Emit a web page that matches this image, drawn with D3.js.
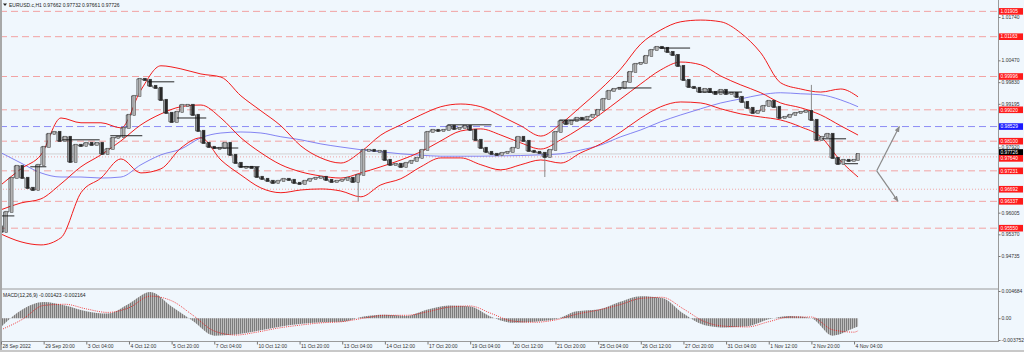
<!DOCTYPE html>
<html><head><meta charset="utf-8">
<script src="https://cdn.jsdelivr.net/npm/d3@7"></script>
<style>
html,body{margin:0;padding:0;background:#fff;}
svg{display:block;font-family:"Liberation Sans",Arial,sans-serif;}
</style></head><body>
<svg id="c" width="1024" height="352"></svg>
<script>
// ---------- DATA ----------
const symbolTitle = "EURUSD.c,H1  0.97662 0.97732 0.97661 0.97726";
const macdTitle = "MACD(12,26,9) -0.001423 -0.002164";
// time axis labels (every 32 H1 bars)
const timeLabels = ["28 Sep 2022","29 Sep 20:00","3 Oct 04:00","4 Oct 12:00","5 Oct 20:00","7 Oct 04:00","10 Oct 12:00","11 Oct 20:00","13 Oct 04:00","14 Oct 12:00","17 Oct 20:00","19 Oct 04:00","20 Oct 12:00","21 Oct 20:00","25 Oct 04:00","26 Oct 12:00","27 Oct 20:00","31 Oct 04:00","1 Nov 12:00","2 Nov 20:00","4 Nov 04:00"];
const timeLabelBars = [0,32,64,96,128,160,192,224,256,288,320,352,384,416,448,480,512,544,576,608,640];
// visible price-scale labels (the others sit under level boxes)
const priceTicks = [1.01740,1.00470,0.99830,0.99195,0.97920,0.96005,0.95370,0.94735];
const macdTicks = [0.004684,0,-0.003752];
const macdTickLabels = ["0.004684","0.00","-0.003752"];

// price closes sampled every 4 H1 bars (last = current bar 643)
const closeBars = d3.range(0,161).map(k=>k*4).concat([643]);
const firstOpen = 0.9560;
const closes = [0.95442,0.96028,0.97025,0.97376,0.97025,0.96732,0.96673,0.97406,0.97933,0.98314,
0.98372,0.98109,0.98226,0.97493,0.97992,0.97962,0.98050,0.97992,0.98050,0.97728,
0.97874,0.98197,0.98226,0.98490,0.98871,0.99427,0.99925,0.99896,0.99720,0.99662,
0.99310,0.98929,0.98665,0.98958,0.99164,0.99164,0.98871,0.98402,0.98050,0.97933,
0.97904,0.97904,0.98050,0.97699,0.97464,0.97347,0.97347,0.97318,0.97054,0.96995,
0.96937,0.96878,0.96937,0.96995,0.96966,0.96878,0.96849,0.96937,0.96995,0.97025,
0.97054,0.96966,0.96907,0.96937,0.96966,0.97025,0.96907,0.97113,0.97845,0.97845,
0.97816,0.97816,0.97552,0.97406,0.97435,0.97347,0.97464,0.97523,0.97611,0.97845,
0.98372,0.98431,0.98402,0.98431,0.98548,0.98460,0.98490,0.98548,0.98431,0.98138,
0.97904,0.97786,0.97728,0.97699,0.97757,0.97786,0.97904,0.98226,0.98109,0.97816,
0.97786,0.97757,0.97640,0.97845,0.98372,0.98695,0.98607,0.98695,0.98783,0.98753,
0.98812,0.98871,0.99017,0.99339,0.99574,0.99632,0.99662,0.99837,1.00130,1.00365,
1.00394,1.00599,1.00775,1.00863,1.00834,1.00716,1.00628,1.00306,0.99896,0.99691,
0.99662,0.99544,0.99632,0.99544,0.99486,0.99603,0.99486,0.99515,0.99398,0.99251,
0.99076,0.98929,0.98987,0.99134,0.99281,0.99105,0.98783,0.98812,0.98871,0.98929,
0.98958,0.98987,0.98724,0.98138,0.98226,0.98314,0.97611,0.97435,0.97552,0.97523,
0.97552,0.97726];
// notable wicks [candle number, high, low]
const wicks = [[0,null,0.9536],[67,null,0.96337],[102,null,0.9705],[152,0.9975,null]];

// indicator samples every 15 bars (last = bar 643)
const bandBars = d3.range(0,631,15).concat([643]);
const bbUpper = [0.9682,0.9729,0.9770,0.9878,0.9864,0.9864,0.9849,0.9960,1.0031,1.0022,
1.0007,0.9998,0.9943,0.9899,0.9855,0.9796,0.9761,0.9746,0.9779,0.9828,
0.9858,0.9887,0.9911,0.9919,0.9911,0.9884,0.9855,0.9825,0.9861,0.9911,
0.9963,1.0022,1.0095,1.0136,1.0160,1.0165,1.0160,1.0127,1.0069,0.9981,
0.9963,0.9954,0.9963,0.9940];
const bbMiddle = [0.9609,0.9629,0.9641,0.9685,0.9735,0.9770,0.9811,0.9858,0.9890,0.9911,
0.9916,0.9878,0.9820,0.9776,0.9741,0.9720,0.9708,0.9702,0.9717,0.9735,
0.9755,0.9779,0.9811,0.9840,0.9846,0.9828,0.9805,0.9787,0.9814,0.9849,
0.9890,0.9934,0.9978,1.0019,1.0042,1.0034,1.0001,0.9975,0.9952,0.9922,
0.9908,0.9887,0.9855,0.9828];
const bbLower = [0.9538,0.9515,0.9506,0.9527,0.9659,0.9702,0.9758,0.9717,0.9729,0.9790,
0.9820,0.9755,0.9711,0.9673,0.9659,0.9667,0.9670,0.9664,0.9647,0.9682,
0.9700,0.9735,0.9761,0.9761,0.9741,0.9726,0.9741,0.9755,0.9746,0.9776,
0.9802,0.9837,0.9878,0.9911,0.9925,0.9922,0.9905,0.9890,0.9881,0.9872,
0.9852,0.9823,0.9752,0.9705];
const maSlow = [0.9776,0.9746,0.9717,0.9705,0.9705,0.9702,0.9705,0.9741,0.9770,0.9787,
0.9820,0.9834,0.9837,0.9834,0.9823,0.9814,0.9802,0.9793,0.9785,0.9779,
0.9773,0.9769,0.9766,0.9766,0.9766,0.9767,0.9768,0.9770,0.9773,0.9784,
0.9799,0.9823,0.9843,0.9867,0.9887,0.9905,0.9922,0.9934,0.9946,0.9952,
0.9949,0.9946,0.9931,0.9911];

// MACD samples every 16 bars (last = bar 643)
const macdBars = d3.range(0,641,16).concat([643]);
const macdMain = [-0.0015,0.0015,0.0028,0.0022,0.0012,0.0008,0.0025,0.0045,0.0020,-0.0005,
-0.0030,-0.0028,-0.0022,-0.0015,-0.0010,-0.0007,-0.0006,0.0003,0.0006,0.0004,
0.0015,0.0022,0.0020,0.0002,-0.0008,-0.0006,-0.0002,0.0012,0.0015,0.0028,
0.0038,0.0035,0.0008,-0.0012,-0.0016,-0.0014,-0.0002,0.0004,0.0000,-0.0030,
-0.0017,-0.001423];
const macdSignal = [-0.0020,-0.0002,0.0022,0.0024,0.0016,0.0010,0.0018,0.0038,0.0030,0.0005,
-0.0022,-0.0029,-0.0024,-0.0017,-0.0012,-0.0008,-0.0006,0.0000,0.0005,0.0005,
0.0011,0.0019,0.0021,0.0008,-0.0005,-0.0007,-0.0003,0.0007,0.0014,0.0023,
0.0034,0.0036,0.0016,-0.0006,-0.0014,-0.0015,-0.0006,0.0002,0.0002,-0.0020,
-0.0024,-0.002164];

// horizontal levels
const levelsDashedRed = [1.01905,1.01163,0.99996,0.99020,0.98100,0.97231,0.96337,0.95550];
const levelsDashedBlue = [0.98529];
const levelsDottedRed = [0.97640,0.96692];
const bidPrice = 0.97726;
const labelsRed = [1.01905,1.01163,0.99996,0.99020,0.98100,0.97640,0.97231,0.96692,0.96337,0.95550];
// short horizontal segments [fromBar, toBar, price]
const segments = [[0,10,0.9591],[22,34,0.9735],[46,74,0.9814],[82,106,0.9826],[110,130,0.9984],
[132,154,0.9878],[159,178,0.9790],[179,194,0.9735],[335,368,0.9858],[419,443,0.9872],
[463,488,0.9966],[494,517,1.0083],[524,556,0.9954],[616,634,0.9817],[633,643,0.9744]];
// projection arrows [fromBar, fromPrice, toBar, toPrice]
const arrows = [[657,0.97231,674,0.98529],[657,0.97231,673,0.96337]];

// ---------- CHART ----------
const svg = d3.select("#c");
const bg = "#f0f7fd";
const plotR = 998;
svg.append("rect").attr("width",1024).attr("height",352).attr("fill",bg);

const x = d3.scaleLinear().domain([0,748]).range([1,plotR]);
const y = d3.scaleLinear().domain([1.01740,0.94735]).range([17,256]);
const ym = d3.scaleLinear().domain([0.004684,-0.003752]).range([291,340]);

const defs = svg.append("defs");
defs.append("clipPath").attr("id","cp").append("rect").attr("x",0).attr("y",0).attr("width",plotR).attr("height",288);
defs.append("clipPath").attr("id","cm").append("rect").attr("x",0).attr("y",290).attr("width",plotR).attr("height",51);
const pat = defs.append("pattern").attr("id","hist").attr("width",2).attr("height",4).attr("patternUnits","userSpaceOnUse");
pat.append("rect").attr("width",1).attr("height",4).attr("fill","#7c7c7c");
pat.append("rect").attr("x",1).attr("width",1).attr("height",4).attr("fill","#bdbdbd");
defs.append("marker").attr("id","ah").attr("viewBox","0 0 10 10").attr("refX",9).attr("refY",5)
  .attr("markerWidth",5).attr("markerHeight",5).attr("orient","auto")
  .append("path").attr("d","M0,1L10,5L0,9Z").attr("fill","#8a8a8a");

const gp = svg.append("g").attr("clip-path","url(#cp)");

// levels
levelsDashedRed.forEach(p=>gp.append("line").attr("x1",0).attr("x2",plotR).attr("y1",y(p)).attr("y2",y(p))
  .attr("stroke","#f2a3a3").attr("stroke-width",1).attr("stroke-dasharray","7,4"));
levelsDashedBlue.forEach(p=>gp.append("line").attr("x1",0).attr("x2",plotR).attr("y1",y(p)).attr("y2",y(p))
  .attr("stroke","#8c8cf5").attr("stroke-width",1).attr("stroke-dasharray","7,4"));
levelsDottedRed.forEach(p=>gp.append("line").attr("x1",0).attr("x2",plotR).attr("y1",y(p)).attr("y2",y(p))
  .attr("stroke","#f08f8f").attr("stroke-width",0.8).attr("stroke-dasharray","1,2"));
gp.append("line").attr("x1",0).attr("x2",plotR).attr("y1",y(bidPrice)).attr("y2",y(bidPrice))
  .attr("stroke","#c8c8c8").attr("stroke-width",0.8);

// indicators
const mk = arr => d3.line().x((d,i)=>x(bandBars[i])).y(d=>y(d)).curve(d3.curveMonotoneX)(arr);
gp.append("path").attr("d",mk(maSlow)).attr("fill","none").attr("stroke","#7676f0").attr("stroke-width",0.9);
[bbUpper,bbMiddle,bbLower].forEach(a=>gp.append("path").attr("d",mk(a)).attr("fill","none").attr("stroke","#f21c1c").attr("stroke-width",1));

// candles
const candles = closes.map((c,k)=>({i:closeBars[k], o:k?closes[k-1]:firstOpen, c}));
wicks.forEach(([k,hi,lo])=>{
  const cd=candles[k];
  const top = hi!=null?hi:Math.max(cd.o,cd.c), bot = lo!=null?lo:Math.min(cd.o,cd.c);
  gp.append("line").attr("x1",x(cd.i)).attr("x2",x(cd.i)).attr("y1",y(top)).attr("y2",y(bot))
    .attr("stroke","#8a8a8a").attr("stroke-width",1);
});
gp.append("path").attr("d",d3.line().x((d,i)=>x(closeBars[i])).y(d=>y(d)).curve(d3.curveStep)(closes))
  .attr("fill","none").attr("stroke","#3a3a3a").attr("stroke-width",0.8);
gp.selectAll("rect.c").data(candles).join("rect").attr("class","c")
  .attr("x",d=>x(d.i)-1.4).attr("width",d=>x(d.i+2.1)-x(d.i))
  .attr("y",d=>Math.min(y(d.o),y(d.c))-0.7)
  .attr("height",d=>Math.max(Math.abs(y(d.o)-y(d.c)),1)+1.4)
  .attr("fill",d=>d.c>=d.o?"#b4b4b4":"#2a2a2a")
  .attr("stroke",d=>d.c>=d.o?"#404040":"#2a2a2a").attr("stroke-width",0.5);

// segments
segments.forEach(([a,b,p])=>gp.append("line").attr("x1",x(a)).attr("x2",x(b)).attr("y1",y(p)).attr("y2",y(p))
  .attr("stroke","#111").attr("stroke-width",0.9));

// arrows
arrows.forEach(([a,pa,b,pb])=>gp.append("line").attr("x1",x(a)).attr("y1",y(pa)).attr("x2",x(b)).attr("y2",y(pb))
  .attr("stroke","#8a8a8a").attr("stroke-width",1.2).attr("marker-end","url(#ah)"));

// MACD
const gm = svg.append("g").attr("clip-path","url(#cm)");
gm.append("path").attr("d",d3.area().x((d,i)=>x(macdBars[i])).y0(ym(0)).y1(d=>ym(d)).curve(d3.curveMonotoneX)(macdMain))
  .attr("fill","url(#hist)");
gm.append("path").attr("d",d3.line().x((d,i)=>x(macdBars[i])).y(d=>ym(d)).curve(d3.curveMonotoneX)(macdSignal))
  .attr("fill","none").attr("stroke","#f01010").attr("stroke-width",0.8).attr("stroke-dasharray","1,1.2");

// frames
svg.append("line").attr("x1",0).attr("x2",plotR).attr("y1",289).attr("y2",289).attr("stroke","#9a9a9a");
svg.append("line").attr("x1",0).attr("x2",plotR+1).attr("y1",341.5).attr("y2",341.5).attr("stroke","#9a9a9a");
svg.append("line").attr("x1",plotR+0.5).attr("x2",plotR+0.5).attr("y1",0).attr("y2",342).attr("stroke","#9a9a9a");
svg.append("rect").attr("x",0).attr("y",0).attr("width",2).attr("height",352).attr("fill","#a8a8a8");
svg.append("rect").attr("x",0).attr("y",350).attr("width",1024).attr("height",2).attr("fill","#c8c8c8");

// right price axis
const ax = svg.append("g").attr("transform",`translate(${plotR+0.5},0)`)
  .call(d3.axisRight(y).tickValues(priceTicks).tickSize(2).tickFormat(d3.format(".5f")));
ax.select(".domain").remove();
ax.selectAll("text").attr("font-size",5).attr("fill","#333").attr("x",3).attr("font-family","Liberation Sans, Arial");
ax.selectAll("line").attr("stroke","#777");

const axm = svg.append("g").attr("transform",`translate(${plotR+0.5},0)`)
  .call(d3.axisRight(ym).tickValues(macdTicks).tickSize(2).tickFormat((d,i)=>macdTickLabels[i]));
axm.select(".domain").remove();
axm.selectAll("text").attr("font-size",5).attr("fill","#333").attr("x",3).attr("font-family","Liberation Sans, Arial");
axm.selectAll("line").attr("stroke","#777");

// price label boxes (bid box first, levels drawn over it as in the terminal)
function box(p,col,dy){
  const g = svg.append("g");
  g.append("rect").attr("x",plotR+1).attr("y",y(p)-3.3+dy).attr("width",24).attr("height",6.6).attr("fill",col);
  g.append("text").attr("x",plotR+2.5).attr("y",y(p)+1.8+dy).attr("font-size",4.8).attr("fill","#fff")
    .text(d3.format(".5f")(p));
}
box(bidPrice,"#000",-1.5);
labelsRed.forEach(p=>box(p,"#ff1a1a",p===0.97640?1.5:0));
levelsDashedBlue.forEach(p=>box(p,"#1a1aff",0));

// bottom time axis
const bx = svg.append("g").attr("transform","translate(0,341.5)")
  .call(d3.axisBottom(x).tickValues(timeLabelBars).tickSize(3).tickFormat((d,i)=>timeLabels[i]));
bx.select(".domain").remove();
bx.selectAll("text").attr("font-size",5).attr("fill","#333").attr("text-anchor","start").attr("dx",1).attr("y",3)
  .attr("font-family","Liberation Sans, Arial");
bx.selectAll("line").attr("stroke","#777");

// titles
svg.append("path").attr("d","M3,3.5L7,3.5L5,6Z").attr("fill","#222");
svg.append("text").attr("x",9).attr("y",6.5).attr("font-size",5).attr("fill","#222").text(symbolTitle);
svg.append("text").attr("x",3).attr("y",296.5).attr("font-size",5).attr("fill","#222").text(macdTitle);
</script></body></html>
